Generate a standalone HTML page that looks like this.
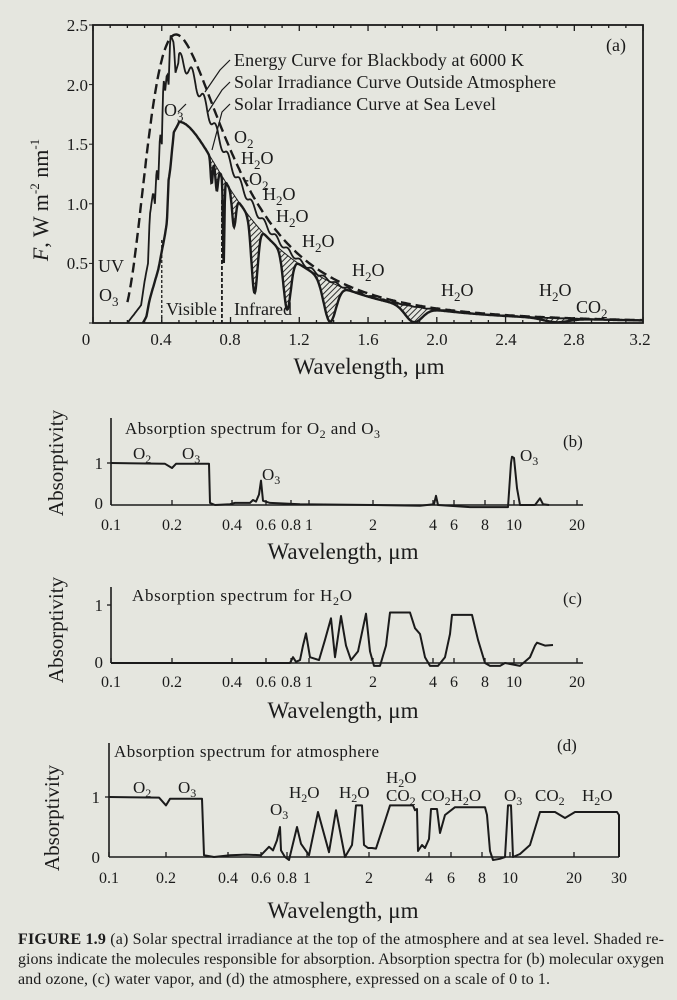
<!DOCTYPE html>
<html><head><meta charset="utf-8"><style>
html,body{margin:0;padding:0;background:#e5e6df;}
svg{display:block}
text{font-family:"Liberation Serif",serif;fill:#1b1b1b}
</style></head><body>
<svg id="s" width="677" height="1000" viewBox="0 0 677 1000" xmlns="http://www.w3.org/2000/svg">
<defs>
<pattern id="h" width="4" height="4" patternUnits="userSpaceOnUse" patternTransform="rotate(45)">
<rect width="4" height="4" fill="#e5e6df"/><line x1="0" y1="0" x2="0" y2="4" stroke="#1b1b1b" stroke-width="1.8"/></pattern>
</defs>
<rect width="677" height="1000" fill="#e5e6df"/>
<g id="A"></g>
<g font-size="17">
<text x="88" y="31" text-anchor="end">2.5</text>
<text x="88" y="91" text-anchor="end">2.0</text>
<text x="88" y="150" text-anchor="end">1.5</text>
<text x="88" y="210" text-anchor="end">1.0</text>
<text x="88" y="269" text-anchor="end">0.5</text>
<text x="86" y="345" text-anchor="middle">0</text>
<text x="161" y="345" text-anchor="middle">0.4</text>
<text x="230" y="345" text-anchor="middle">0.8</text>
<text x="299" y="345" text-anchor="middle">1.2</text>
<text x="368" y="345" text-anchor="middle">1.6</text>
<text x="437" y="345" text-anchor="middle">2.0</text>
<text x="506" y="345" text-anchor="middle">2.4</text>
<text x="574" y="345" text-anchor="middle">2.8</text>
<text x="640" y="345" text-anchor="middle">3.2</text>
</g>
<text x="369" y="374" font-size="23" text-anchor="middle">Wavelength, μm</text>
<text transform="translate(48,200) rotate(-90)" font-size="22" text-anchor="middle"><tspan font-style="italic">F</tspan>,  W m<tspan font-size="13" dy="-9">-2</tspan><tspan dy="9"> nm</tspan><tspan font-size="13" dy="-9">-1</tspan></text>
<g font-size="18">
<text x="234" y="66" textLength="290">Energy Curve for Blackbody at 6000 K</text>
<text x="234" y="88" textLength="322">Solar Irradiance Curve Outside Atmosphere</text>
<text x="234" y="110" textLength="262">Solar Irradiance Curve at Sea Level</text>
<text x="606" y="51">(a)</text>
<text x="164" y="116">O<tspan font-size="13" dy="5">3</tspan></text>
<text x="234" y="143">O<tspan font-size="13" dy="5">2</tspan></text>
<text x="241" y="164">H<tspan font-size="13" dy="5">2</tspan><tspan dy="-5">O</tspan></text>
<text x="243" y="185">-O<tspan font-size="13" dy="5">2</tspan></text>
<text x="263" y="200">H<tspan font-size="13" dy="5">2</tspan><tspan dy="-5">O</tspan></text>
<text x="276" y="222">H<tspan font-size="13" dy="5">2</tspan><tspan dy="-5">O</tspan></text>
<text x="302" y="247">H<tspan font-size="13" dy="5">2</tspan><tspan dy="-5">O</tspan></text>
<text x="352" y="276">H<tspan font-size="13" dy="5">2</tspan><tspan dy="-5">O</tspan></text>
<text x="441" y="296">H<tspan font-size="13" dy="5">2</tspan><tspan dy="-5">O</tspan></text>
<text x="539" y="296">H<tspan font-size="13" dy="5">2</tspan><tspan dy="-5">O</tspan></text>
<text x="576" y="313">CO<tspan font-size="13" dy="5">2</tspan></text>
<text x="98" y="272">UV</text>
<text x="99" y="301">O<tspan font-size="13" dy="5">3</tspan></text>
<text x="166" y="315">Visible</text>
<text x="234" y="315">Infrared</text>
</g>
<g stroke="#1b1b1b" stroke-width="1.2" fill="none">
<path d="M230 60 L220 70 L205 92"/><path d="M230 82 L222 90 L208 112"/><path d="M230 104 L222 112 L212 150"/>
<path d="M186 104 L178 112"/>
</g>

<g id="B"></g>
<text x="125" y="434" font-size="17" textLength="255">Absorption  spectrum  for  O<tspan font-size="12" dy="4">2</tspan><tspan dy="-4">  and  O</tspan><tspan font-size="12" dy="4">3</tspan></text>
<text x="563" y="447" font-size="17">(b)</text>
<g font-size="17">
<text x="133" y="459">O<tspan font-size="12" dy="4">2</tspan></text>
<text x="182" y="459">O<tspan font-size="12" dy="4">3</tspan></text>
<text x="262" y="480">O<tspan font-size="12" dy="4">3</tspan></text>
<text x="520" y="461">O<tspan font-size="12" dy="4">3</tspan></text>
<text x="103" y="469" text-anchor="end">1</text>
<text x="103" y="509" text-anchor="end">0</text>
</g>
<text transform="translate(63,463) rotate(-90)" font-size="21" text-anchor="middle">Absorptivity</text>
<g id="BL" font-size="16"></g>
<text x="343" y="559" font-size="23" text-anchor="middle">Wavelength, μm</text>

<g id="C"></g>
<text x="132" y="601" font-size="17" textLength="220">Absorption  spectrum  for  H<tspan font-size="12" dy="4">2</tspan><tspan dy="-4">O</tspan></text>
<text x="563" y="604" font-size="17">(c)</text>
<g font-size="17"><text x="103" y="611" text-anchor="end">1</text><text x="103" y="668" text-anchor="end">0</text></g>
<text transform="translate(63,630) rotate(-90)" font-size="21" text-anchor="middle">Absorptivity</text>
<g id="CL" font-size="16"></g>
<text x="343" y="718" font-size="23" text-anchor="middle">Wavelength, μm</text>

<g id="D"></g>
<text x="114" y="757" font-size="17" textLength="265">Absorption  spectrum  for  atmosphere</text>
<text x="557" y="751" font-size="17">(d)</text>
<g font-size="17">
<text x="133" y="793">O<tspan font-size="12" dy="4">2</tspan></text>
<text x="178" y="793">O<tspan font-size="12" dy="4">3</tspan></text>
<text x="270" y="815">O<tspan font-size="12" dy="4">3</tspan></text>
<text x="289" y="798">H<tspan font-size="12" dy="4">2</tspan><tspan dy="-4">O</tspan></text>
<text x="339" y="798">H<tspan font-size="12" dy="4">2</tspan><tspan dy="-4">O</tspan></text>
<text x="386" y="783">H<tspan font-size="12" dy="4">2</tspan><tspan dy="-4">O</tspan></text>
<text x="386" y="801">CO<tspan font-size="12" dy="4">2</tspan></text>
<text x="421" y="801">CO<tspan font-size="12" dy="4">2</tspan><tspan dy="-4">H</tspan><tspan font-size="12" dy="4">2</tspan><tspan dy="-4">O</tspan></text>
<text x="504" y="801">O<tspan font-size="12" dy="4">3</tspan></text>
<text x="535" y="801">CO<tspan font-size="12" dy="4">2</tspan></text>
<text x="582" y="801">H<tspan font-size="12" dy="4">2</tspan><tspan dy="-4">O</tspan></text>
<text x="100" y="803" text-anchor="end">1</text>
<text x="100" y="863" text-anchor="end">0</text>
</g>
<text transform="translate(59,818) rotate(-90)" font-size="21" text-anchor="middle">Absorptivity</text>
<g id="DL" font-size="16"></g>
<text x="343" y="918" font-size="23" text-anchor="middle">Wavelength, μm</text>

<g font-size="16">
<text x="18" y="944" textLength="646"><tspan font-weight="bold">FIGURE 1.9</tspan>   (a) Solar spectral irradiance at the top of the atmosphere and at sea level. Shaded re-</text>
<text x="18" y="964" textLength="646">gions indicate the molecules responsible for absorption. Absorption spectra for (b) molecular oxygen</text>
<text x="18" y="984" textLength="532">and ozone, (c) water vapor, and (d) the atmosphere, expressed on a scale of 0 to 1.</text>
</g>
</svg>
<script>
var NS="http://www.w3.org/2000/svg";
function el(p,t,a,txt){var e=document.createElementNS(NS,t);for(var k in a)e.setAttribute(k,a[k]);if(txt)e.textContent=txt;document.getElementById(p).appendChild(e);return e;}
function pts(a){return a.map(function(p){return p[0].toFixed(1)+","+p[1].toFixed(1)}).join(" ");}
var X0=93,XS=171.9,Y0=323,YS=119.2;
function ux(l){return X0+l*XS} function uy(v){return Y0-v*YS}
el("A","rect",{x:X0,y:25,width:550,height:298,fill:"none",stroke:"#1b1b1b","stroke-width":1.8});
for(var t=0;t<=3.2001;t+=0.1){var x=ux(t);var L=(Math.round(t*10)%4==0)?6:3;
 el("A","line",{x1:x,y1:Y0,x2:x,y2:Y0-L,stroke:"#1b1b1b","stroke-width":1.3});el("A","line",{x1:x,y1:25,x2:x,y2:25+L,stroke:"#1b1b1b","stroke-width":1.3});}
for(var v=0;v<=2.5;v+=0.5){el("A","line",{x1:X0-4,y1:uy(v),x2:X0,y2:uy(v),stroke:"#1b1b1b"});}
function pl(l){return 1/(Math.pow(l,5)*(Math.exp(2.398/l)-1));}
var pk=pl(0.483);function bb(l){return 2.42*pl(l)/pk;}
function interp(a,l){for(var i=0;i<a.length-1;i++){if(l>=a[i][0]&&l<=a[i+1][0]){var f=(l-a[i][0])/(a[i+1][0]-a[i][0]);return a[i][1]+f*(a[i+1][1]-a[i][1]);}}return 0;}
var outLow=[[0.2,0],[0.28,0.15],[0.3,0.35],[0.32,0.5],[0.33,0.9],[0.35,1.1],[0.36,1.0],[0.37,1.3],[0.38,1.2],[0.39,1.6],[0.4,1.5],[0.41,2.05],[0.42,1.95],[0.43,2.1],[0.44,2.0],[0.45,2.42],[0.47,2.35],[0.48,2.1],[0.5,2.2]];
function outs(l){if(l<0.5)return interp(outLow,l);return Math.min(2.2,0.92*bb(l))*(1+0.03*Math.sin(l*90));}
var seaLow=[[0.29,0],[0.31,0.05],[0.33,0.2],[0.36,0.35],[0.38,0.45],[0.4,0.6],[0.42,0.75],[0.43,0.85],[0.44,1.2],[0.45,1.3],[0.47,1.6],[0.5,1.68]];
var dips=[[0.69,0.15,0.008],[0.72,0.15,0.01],[0.76,0.6,0.006],[0.82,0.25,0.015],[0.94,0.7,0.025],[1.13,0.8,0.03],[1.38,0.97,0.05],[1.87,0.95,0.07],[2.7,0.85,0.1]];
function env(l){var T=Math.min(0.97,0.76+(l-0.5)*0.26);return 0.92*bb(l)*T;}
function sea(l){if(l<0.5)return interp(seaLow,l);var f=1;dips.forEach(function(d){f*=1-d[1]*Math.exp(-Math.pow((l-d[0])/d[2],2));});return env(l)*f;}
var B=[],O=[],S=[],E=[];
for(var l=0.2;l<=3.2;l+=0.004){B.push([ux(l),uy(bb(l))]);O.push([ux(l),uy(outs(l))]);}
for(var l=0.29;l<=3.2;l+=0.003){S.push([ux(l),uy(sea(l))]);}
for(var l=0.66;l<=3.2;l+=0.003){E.push([ux(l),uy(env(l))]);}
var back=[];for(var l=3.2;l>=0.66;l-=0.003)back.push([ux(l),uy(sea(l))]);
el("A","polygon",{points:pts(E.concat(back)),fill:"url(#h)",stroke:"none"});
el("A","polyline",{points:pts(B),fill:"none",stroke:"#1b1b1b","stroke-width":2.4,"stroke-dasharray":"10,5"});
el("A","polyline",{points:pts(O),fill:"none",stroke:"#1b1b1b","stroke-width":1.8});
el("A","polyline",{points:pts(S),fill:"none",stroke:"#1b1b1b","stroke-width":2.4});
el("A","polyline",{points:pts(E),fill:"none",stroke:"#1b1b1b","stroke-width":1});
el("A","line",{x1:ux(0.4),y1:240,x2:ux(0.4),y2:Y0,stroke:"#1b1b1b","stroke-dasharray":"3,2","stroke-width":1.3});
el("A","line",{x1:ux(0.75),y1:200,x2:ux(0.75),y2:Y0,stroke:"#1b1b1b","stroke-dasharray":"4,2","stroke-width":1.8});
function panel(id,lid,x0,x1,ytop,y0,y1,ticks,lblY,curve){
 var u=y0-y1;
 el(id,"line",{x1:x0,y1:ytop,x2:x0,y2:y0,stroke:"#1b1b1b","stroke-width":1.6});
 el(id,"line",{x1:x0,y1:y0,x2:x1,y2:y0,stroke:"#1b1b1b","stroke-width":1.6});
 el(id,"line",{x1:x0-4,y1:y1,x2:x0,y2:y1,stroke:"#1b1b1b","stroke-width":1.3});
 ticks.forEach(function(t){el(id,"line",{x1:t[1],y1:y0,x2:t[1],y2:y0-5,stroke:"#1b1b1b","stroke-width":1.3});el(lid,"text",{x:t[1],y:lblY,"text-anchor":"middle"},t[0]);});
 el(id,"polyline",{points:pts(curve.map(function(p){return [p[0],y0-p[1]*u]})),fill:"none",stroke:"#1b1b1b","stroke-width":2,"stroke-linejoin":"round"});
}
var tb=[["0.1",111],["0.2",172],["0.4",232],["0.6",266],["0.8",291],["1",309],["2",373],["4",433],["6",454],["8",485],["10",514],["20",577]];
panel("B","BL",111,583,418,505,463,tb,530,[[111,1],[165,0.98],[172,0.88],[176,0.98],[209,0.98],[210,0.05],[215,0],[230,0.02],[235,0.05],[250,0.05],[253,0.12],[256,0.08],[259,0.25],[261,0.58],[263,0.1],[270,0.05],[300,0.02],[373,0],[420,-0.02],[434,0.02],[436,0.22],[438,0],[470,-0.05],[508,-0.05],[511,1.0],[512,1.15],[514,1.12],[517,0.4],[520,0],[535,0],[540,0.16],[543,0.02],[549,0]]);
panel("C","CL",111,583,587,663,605,tb,687,[[111,0],[290,0],[293,0.1],[296,0.02],[300,0.05],[303,0.3],[306,0.51],[310,0.1],[319,0.05],[325,0.4],[331,0.77],[335,0.1],[341,0.81],[346,0.3],[351,0.05],[358,0.2],[366,0.85],[370,0.2],[374,-0.05],[380,-0.05],[386,0.3],[390,0.87],[410,0.87],[415,0.6],[420,0.5],[425,0.1],[430,-0.05],[438,-0.05],[445,0.1],[450,0.5],[452,0.83],[472,0.83],[478,0.4],[485,0],[490,-0.05],[500,-0.05],[505,0],[520,-0.05],[530,0.1],[535,0.3],[537,0.35],[545,0.3],[553,0.31]]);
var td=[["0.1",109],["0.2",166],["0.4",228],["0.6",261],["0.8",287],["1",307],["2",369],["4",429],["6",451],["8",482],["10",510],["20",574],["30",619]];
panel("D","DL",109,619,743,857,797,td,883,[[109,1],[159,0.99],[166,0.86],[170,0.97],[202,0.97],[204,0.03],[214,0],[230,0.03],[246,0.04],[261,0.03],[269,0.17],[273,0.11],[277,0.28],[280,0.5],[281,0.11],[285,0],[289,-0.05],[297,0.5],[301,0.22],[309,0.03],[318,0.75],[329,0.08],[336,0.78],[345,0],[352,0.2],[356,0.86],[362,0.86],[364,0.2],[368,0.15],[372,0.15],[376,0.14],[385,0.6],[390,0.86],[413,0.86],[415,0.78],[417,0.8],[418,0.1],[422,0.2],[425,0.15],[429,0.3],[431,0.8],[437,0.8],[440,0.4],[445,0.7],[455,0.83],[485,0.83],[487,0.7],[490,0.1],[493,-0.05],[500,-0.03],[505,0],[508,0.86],[511,0.86],[513,0],[520,0.05],[530,0.2],[540,0.75],[555,0.75],[565,0.65],[575,0.75],[617,0.75],[619,0.7],[619,0]]);
</script>
</body></html>
